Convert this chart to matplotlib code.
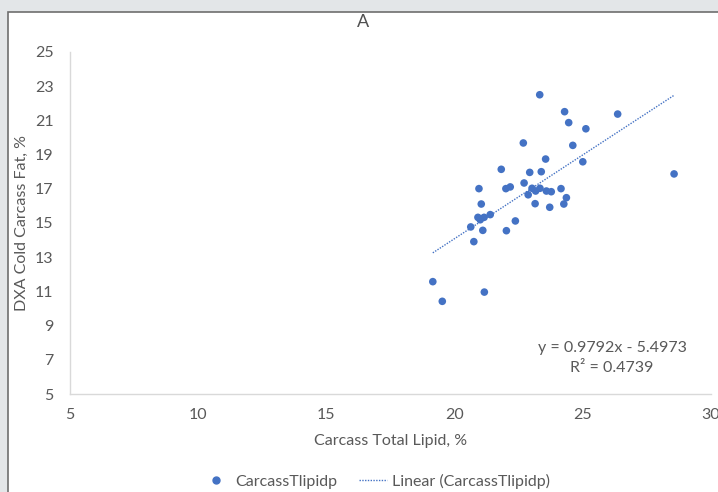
import numpy as np
import matplotlib.pyplot as plt
from matplotlib.patches import Rectangle
from matplotlib.lines import Line2D

# carcass total lipid (%) vs DXA cold carcass fat (%)
lipid = [23.32, 24.29, 26.36, 24.45, 25.12, 22.68, 24.61, 23.55, 25.00, 21.82,
         22.93, 23.38, 28.56, 22.71, 20.95, 22.00, 22.17, 23.02, 23.33, 23.16,
         23.58, 23.77, 24.15, 22.87, 24.36, 21.04, 23.14, 23.71, 24.26, 21.39,
         20.91, 21.15, 21.00, 22.37, 20.63, 21.10, 22.02, 20.75, 19.15, 21.16,
         19.52]
dxa_fat = [22.50, 21.51, 21.37, 20.87, 20.51, 19.68, 19.54, 18.74, 18.58, 18.14,
           17.96, 18.00, 17.87, 17.34, 17.01, 17.01, 17.11, 17.03, 17.03, 16.87,
           16.87, 16.83, 17.01, 16.65, 16.48, 16.11, 16.13, 15.92, 16.11, 15.49,
           15.33, 15.33, 15.19, 15.12, 14.77, 14.57, 14.55, 13.91, 11.57, 10.96,
           10.42]
slope, intercept, r2 = 0.9792, -5.4973, 0.4739

x_ticks = [5, 10, 15, 20, 25, 30]
y_ticks = [5, 7, 9, 11, 13, 15, 17, 19, 21, 23, 25]

blue = "#4472C4"
grey_txt = "#595959"
plt.rcParams["font.family"] = ["Lato", "DejaVu Sans"]

fig = plt.figure(figsize=(7.18, 4.92), dpi=100, facecolor="#e3e6e8")
# white chart panel with dark border on top/left
fig.patches.append(Rectangle((8 / 718, -0.1), 1.2, 1 - 11.5 / 492 + 0.1,
                             transform=fig.transFigure, facecolor="white",
                             edgecolor="#6e6e6e", linewidth=1.2, zorder=-5))

ax = fig.add_axes([70 / 718, 1 - 394 / 492, 641 / 718, 342 / 492])
ax.set_zorder(2)
ax.set_facecolor("none")

ax.scatter(lipid, dxa_fat, s=30, color=blue, edgecolors="none", zorder=3)
xs = np.array([min(lipid), max(lipid)])
ax.plot(xs, slope * xs + intercept, color=blue, linestyle=(0, (1, 1)),
        linewidth=1.0, zorder=2)

ax.set_xlim(5, 30)
ax.set_ylim(5, 25)
ax.set_xticks(x_ticks)
ax.set_yticks(y_ticks)
ax.tick_params(length=0, labelsize=11.5, labelcolor=grey_txt)
ax.tick_params(axis="x", pad=10)
ax.tick_params(axis="y", pad=12)
for side in ("top", "right"):
    ax.spines[side].set_visible(False)
for side in ("left", "bottom"):
    ax.spines[side].set_color("#d9d9d9")
    ax.spines[side].set_linewidth(1.0)

ax.set_xlabel("Carcass Total Lipid, %", fontsize=11.5, color=grey_txt, labelpad=9)
ax.set_ylabel("DXA Cold Carcass Fat, %", fontsize=11.5, color=grey_txt, labelpad=4)
fig.text(363 / 718, 1 - 22 / 492, "A", ha="center", va="center",
         fontsize=13, color="#505050")

sign = "-" if intercept < 0 else "+"
eq = f"y = {slope:.4f}x {sign} {abs(intercept):.4f}\nR\u00b2 = {r2:.4f}"
fig.text(612 / 718, 1 - 358 / 492, eq, ha="center", va="center",
         fontsize=11.5, color=grey_txt, linespacing=1.6)

handles = [Line2D([], [], marker="o", linestyle="none", color=blue, markersize=5),
           Line2D([], [], color=blue, linestyle=(0, (1, 1)), linewidth=1.0)]
fig.legend(handles, ["CarcassTlipidp", "Linear (CarcassTlipidp)"],
           loc="center", bbox_to_anchor=(376 / 718, 1 - 481 / 492), ncol=2,
           frameon=False, fontsize=11.5, labelcolor=grey_txt,
           handlelength=1.75, columnspacing=1.4, handletextpad=0.3)

fig.savefig("out.png", dpi=100, facecolor=fig.get_facecolor())
